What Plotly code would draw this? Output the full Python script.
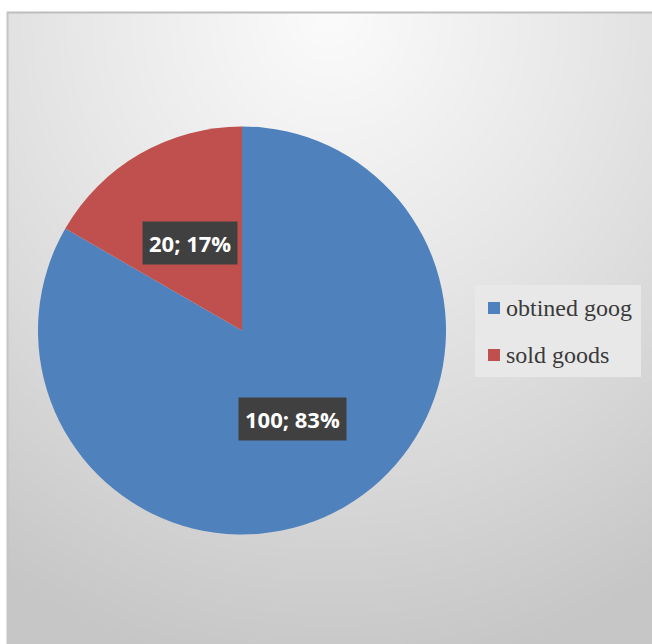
import numpy as np
import plotly.graph_objects as go

labels = ["obtined goog", "sold goods"]
values = [100, 20]
colors = ["#4F81BD", "#C0504D"]

W, H = 652, 644
fig = go.Figure()

# background gradient (styling only)
gx = np.linspace(0, 1, 40)
gy = np.linspace(0, 1, 40)
X, Y = np.meshgrid(gx, gy)
d = np.sqrt(((X - 0.5) * 1.1) ** 2 + ((1 - Y) * 1.0) ** 2)
Z = np.clip(d, 0, 1.05)
fig.add_trace(go.Heatmap(x=gx, y=gy, z=Z, zsmooth="best", showscale=False, hoverinfo="skip",
                         colorscale=[[0, "#fbfbfb"], [0.4, "#e8e8e8"], [0.7, "#d8d8d8"], [1, "#c6c6c6"]],
                         zmin=0, zmax=1.05))

cx, cy, r = 242, 330.5, 204
fig.add_trace(go.Pie(labels=labels, values=values, sort=False, direction="clockwise", rotation=0,
                     marker=dict(colors=colors, line=dict(width=0)), textinfo="none",
                     showlegend=False, hoverinfo="label+value+percent",
                     domain=dict(x=[(cx - r) / W, (cx + r) / W],
                                 y=[(H - cy - r) / H, (H - cy + r) / H])))

total = sum(values)
label_pos = [(292, 419), (190, 243)]
for v, (px, py) in zip(values, label_pos):
    fig.add_annotation(x=px / W, y=1 - py / H, xref="paper", yref="paper", showarrow=False,
                       xanchor="center", yanchor="middle",
                       text=f"<b>{v}; {round(v / total * 100)}%</b>",
                       font=dict(family="Open Sans", size=22, color="white"),
                       bgcolor="#404040", borderpad=6)

# legend box
fig.add_shape(type="rect", xref="paper", yref="paper", x0=475 / W, x1=641 / W,
              y0=1 - 377 / H, y1=1 - 285 / H, fillcolor="#e8e8e8", line=dict(width=0), layer="above")
leg_y = [308, 355]
for lab, col, ly in zip(labels, colors, leg_y):
    fig.add_shape(type="rect", xref="paper", yref="paper", x0=488 / W, x1=500 / W,
                  y0=1 - (ly + 6) / H, y1=1 - (ly - 6) / H, fillcolor=col, line=dict(width=0), layer="above")
    fig.add_annotation(x=504 / W, y=1 - ly / H, xref="paper", yref="paper", showarrow=False,
                       xanchor="left", yanchor="middle", text=lab,
                       font=dict(family="Liberation Serif", size=24, color="#3a3a3a"))

# frame border
fig.add_shape(type="line", xref="paper", yref="paper", x0=7 / W, x1=1, y0=1 - 12.5 / H, y1=1 - 12.5 / H,
              line=dict(color="#bdbdbd", width=2))
fig.add_shape(type="line", xref="paper", yref="paper", x0=7.5 / W, x1=7.5 / W, y0=0, y1=1 - 12 / H,
              line=dict(color="#c4c4c4", width=2))

fig.update_layout(width=W, height=H, margin=dict(l=0, r=0, t=0, b=0),
                  paper_bgcolor="white", plot_bgcolor="white", showlegend=False,
                  xaxis=dict(domain=[8 / W, 1], range=[0, 1], visible=False, fixedrange=True),
                  yaxis=dict(domain=[0, 1 - 13 / H], range=[0, 1], visible=False, fixedrange=True))

fig.write_html("out.html", config={"displayModeBar": False},
               post_script="document.body.style.margin='0';")
